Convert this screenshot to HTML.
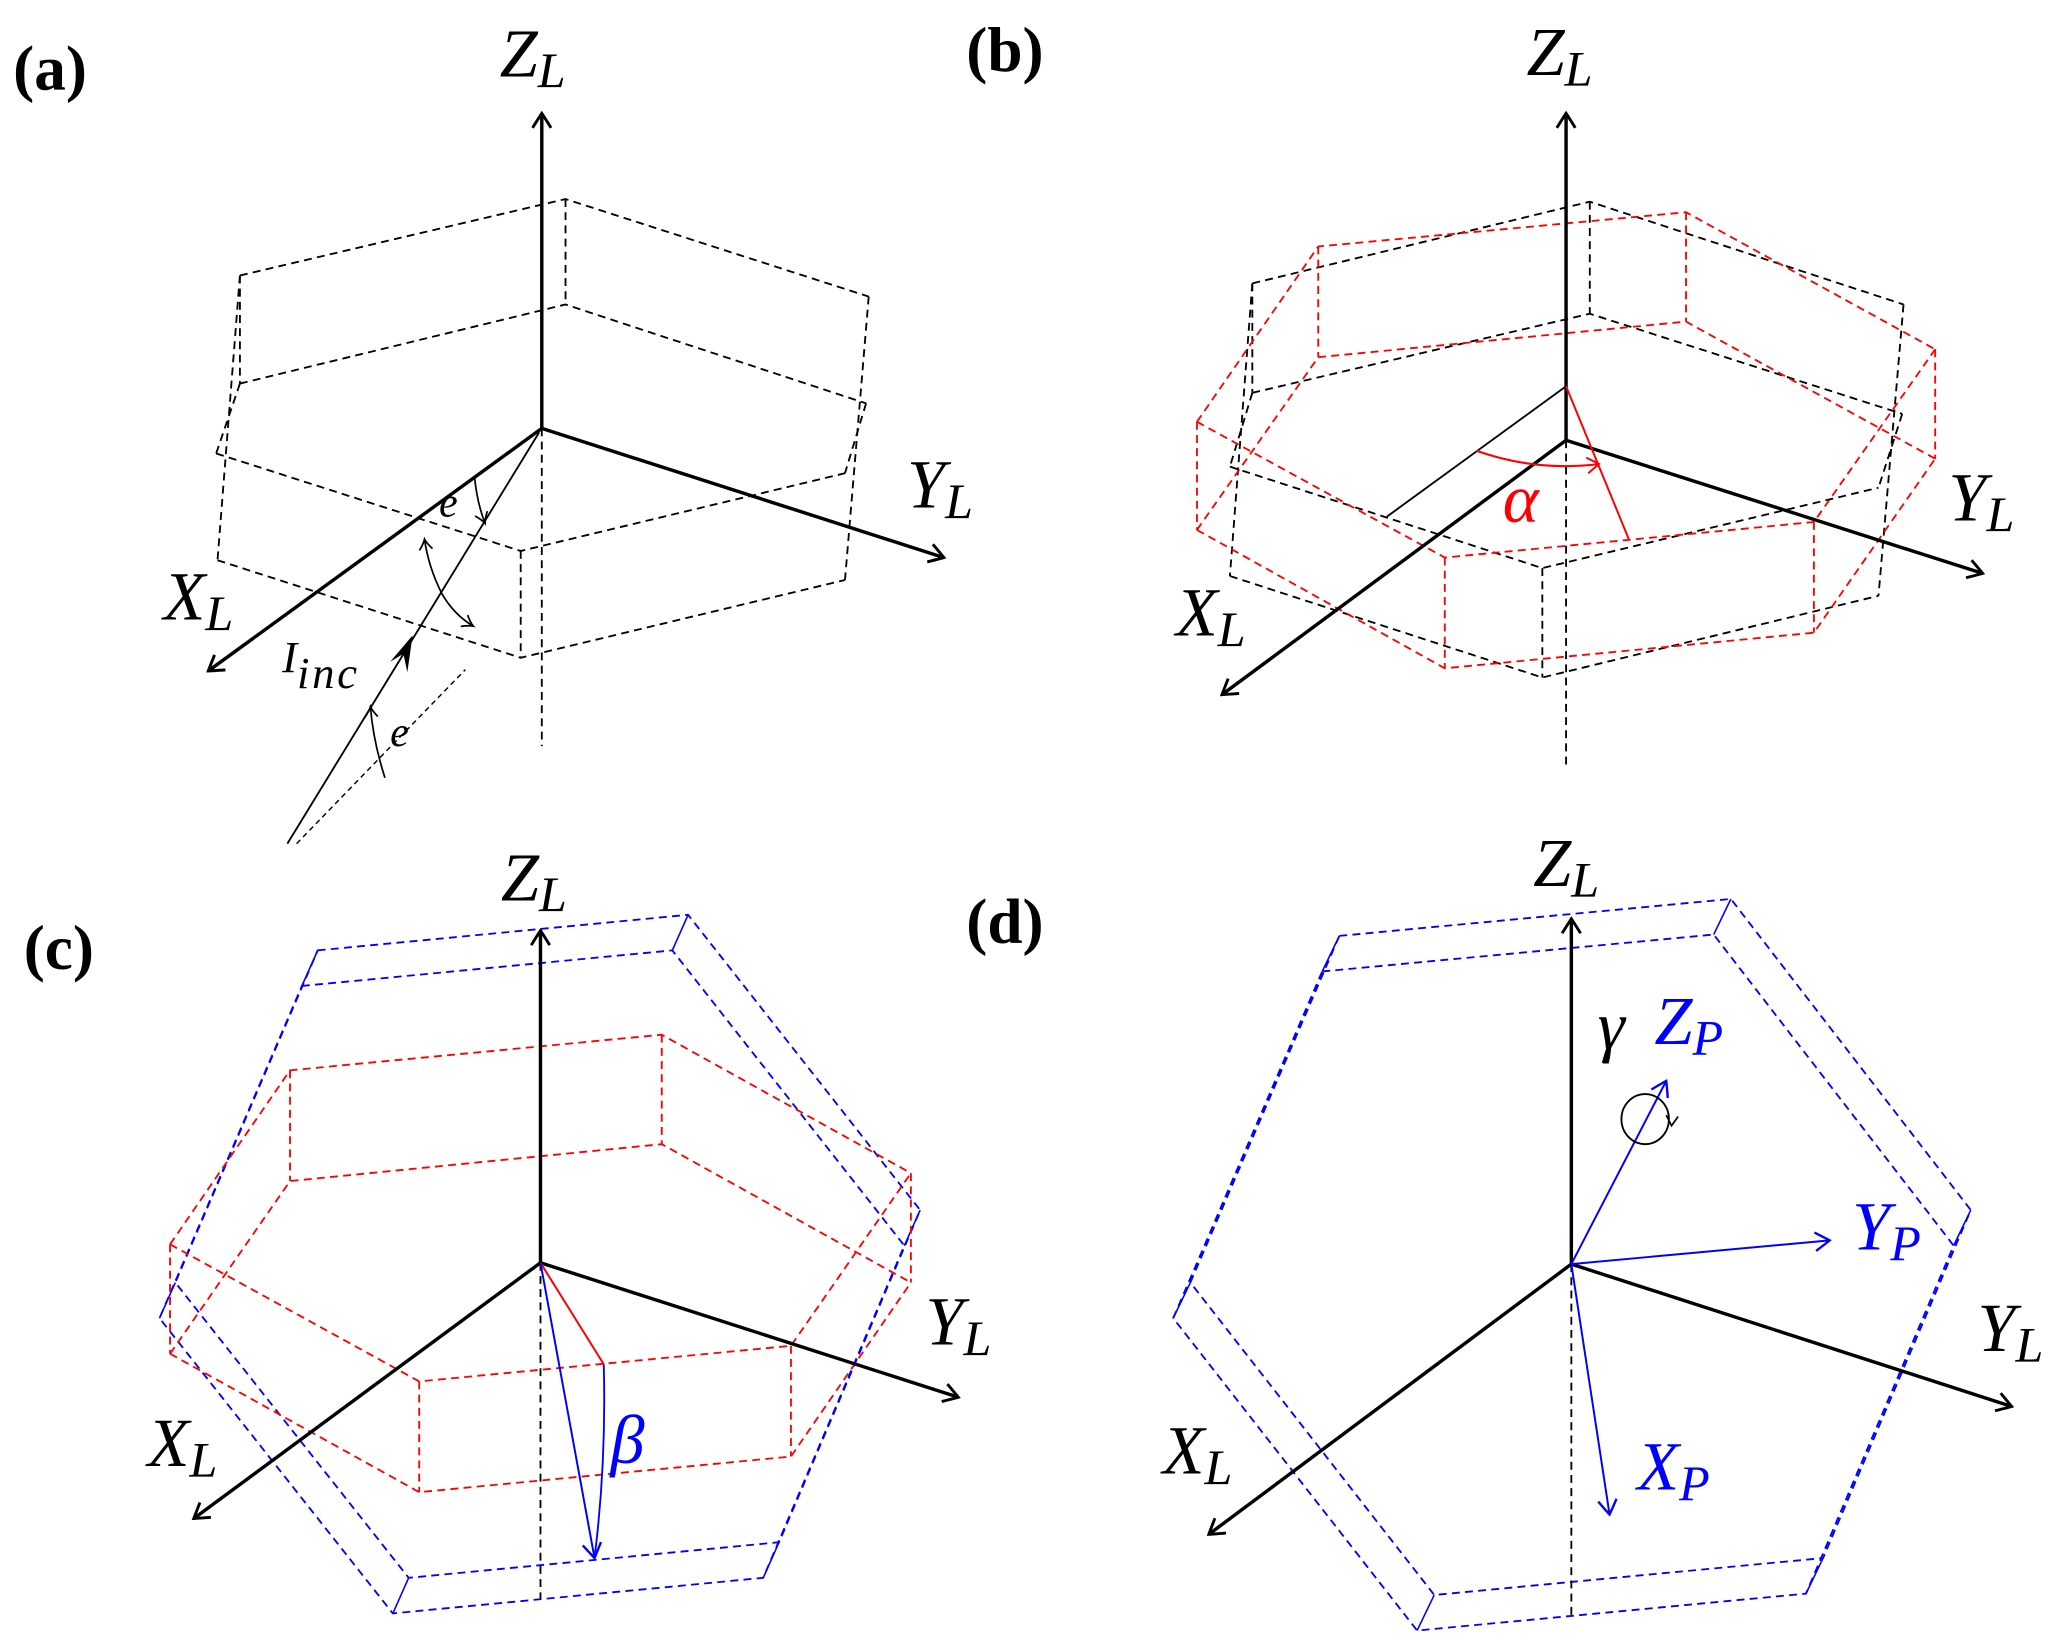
<!DOCTYPE html>
<html><head><meta charset="utf-8"><style>
html,body{margin:0;padding:0;background:#fff;}
svg{display:block;}
text{font-family:"Liberation Serif",serif;font-style:italic;}
.lbl{font-family:"Liberation Serif",serif;font-style:normal;font-weight:bold;font-size:48px;}
</style></head><body>
<svg width="2067" height="1649" viewBox="0 0 1568 1251" preserveAspectRatio="none" xmlns="http://www.w3.org/2000/svg">
<defs>
<marker id="ak" markerUnits="userSpaceOnUse" markerWidth="30" markerHeight="30" refX="0" refY="0" viewBox="-15 -15 30 30" orient="auto" overflow="visible">
<path d="M-11,-7 Q-3,-2 0,0 Q-3,2 -11,7" fill="none" stroke="#000" stroke-width="2.2"/></marker>
<marker id="ab" markerUnits="userSpaceOnUse" markerWidth="30" markerHeight="30" refX="0" refY="0" viewBox="-15 -15 30 30" orient="auto" overflow="visible">
<path d="M-11,-7 Q-3,-2 0,0 Q-3,2 -11,7" fill="none" stroke="#00f" stroke-width="1.8"/></marker>
<marker id="ar" markerUnits="userSpaceOnUse" markerWidth="30" markerHeight="30" refX="0" refY="0" viewBox="-15 -15 30 30" orient="auto" overflow="visible">
<path d="M-9,-6 Q-3,-2 0,0 Q-3,2 -9,6" fill="none" stroke="#f00" stroke-width="1.5"/></marker>
<marker id="as" markerUnits="userSpaceOnUse" markerWidth="30" markerHeight="30" refX="0" refY="0" viewBox="-15 -15 30 30" orient="auto" overflow="visible">
<path d="M-8,-5 Q-3,-1 0,0 Q-3,1 -8,5" fill="none" stroke="#000" stroke-width="1.3"/></marker>
</defs>

<!-- labels -->
<text class="lbl" x="10" y="68">(a)</text>
<text class="lbl" x="733" y="54">(b)</text>
<text class="lbl" x="18" y="735">(c)</text>
<text class="lbl" x="733" y="715">(d)</text>

<!-- ============ PANEL A ============ -->
<g fill="none" stroke="#000" stroke-width="1.4" stroke-dasharray="6,4">
<polyline points="182,209 429,151 659,225"/>
<polyline points="182,291 429,231 657,306"/>
<line x1="429" y1="151" x2="429" y2="231"/>
<line x1="182" y1="209" x2="182" y2="291"/>
<line x1="182" y1="209" x2="165" y2="425"/>
<line x1="164" y1="344" x2="182" y2="291"/>
<polyline points="164,344 395,418 641,359"/>
<polyline points="165,425 395,499 641,440"/>
<line x1="395" y1="418" x2="395" y2="499"/>
<line x1="659" y1="225" x2="641" y2="440"/>
<line x1="657" y1="306" x2="641" y2="359"/>
<line x1="411" y1="325" x2="411" y2="566"/>
<line x1="225" y1="640" x2="353" y2="508" stroke-width="1.1" stroke-dasharray="4,3"/>
</g>
<g fill="none" stroke="#000">
<line x1="411" y1="325" x2="411" y2="86" stroke-width="2.6" marker-end="url(#ak)"/>
<line x1="411" y1="325" x2="716" y2="423" stroke-width="2.6" marker-end="url(#ak)"/>
<line x1="411" y1="325" x2="158" y2="509" stroke-width="2.6" marker-end="url(#ak)"/>
<line x1="218" y1="640" x2="409" y2="328" stroke-width="1.4"/>
<path d="M292,590 Q283,562 281,536" stroke-width="1.3" marker-end="url(#as)"/>
<path d="M360,362 Q362,382 368,397" stroke-width="1.3" marker-end="url(#as)"/>
<path d="M335,450 Q325,430 322,409" stroke-width="1.3" marker-end="url(#as)"/>
<path d="M335,450 Q344,466 359,475" stroke-width="1.3" marker-end="url(#as)"/>
</g>
<path d="M313,482 L296,502 L306,496 L309,510 Z" fill="#000"/>
<text x="379" y="58" font-size="52">Z<tspan font-size="38" dy="8">L</tspan></text>
<text x="688" y="385" font-size="52">Y<tspan font-size="38" dy="8">L</tspan></text>
<text x="124" y="470" font-size="52">X<tspan font-size="38" dy="8">L</tspan></text>
<text x="214" y="510" font-size="34">I<tspan font-size="34" dy="12" letter-spacing="2">inc</tspan></text>
<text x="296" y="566" font-size="32">e</text>
<text x="333" y="392" font-size="32">e</text>

<!-- ============ PANEL B ============ -->
<g fill="none" stroke="#000" stroke-width="1.4" stroke-dasharray="6,4">
<polyline points="950,215 1206,153 1444,231"/>
<polyline points="950,298 1206,238 1443,314"/>
<line x1="1206" y1="153" x2="1206" y2="238"/>
<line x1="950" y1="215" x2="950" y2="298"/>
<line x1="950" y1="215" x2="933" y2="437"/>
<line x1="950" y1="298" x2="933" y2="354"/>
<polyline points="933,354 1170,431 1425,370"/>
<polyline points="933,437 1170,514 1425,452"/>
<line x1="1170" y1="431" x2="1170" y2="514"/>
<line x1="1444" y1="231" x2="1425" y2="452"/>
<line x1="1443" y1="314" x2="1425" y2="370"/>
<line x1="1188" y1="334" x2="1188" y2="584"/>
</g>
<g fill="none" stroke="#f00" stroke-width="1.4" stroke-dasharray="6,4">
<polyline points="908,320 1000,187 1279,161 1468,265"/>
<polyline points="908,402 1000,271 1279,244 1468,348"/>
<polyline points="908,320 1096,423 1376,396 1468,265"/>
<polyline points="908,402 1096,507 1376,480 1468,348"/>
<line x1="1000" y1="187" x2="1000" y2="271"/>
<line x1="1279" y1="161" x2="1279" y2="244"/>
<line x1="1468" y1="265" x2="1468" y2="348"/>
<line x1="908" y1="320" x2="908" y2="402"/>
<line x1="1096" y1="423" x2="1096" y2="507"/>
<line x1="1376" y1="396" x2="1376" y2="480"/>
</g>
<g fill="none">
<line x1="1188" y1="334" x2="1188" y2="86" stroke="#000" stroke-width="2.6" marker-end="url(#ak)"/>
<line x1="1188" y1="334" x2="1504" y2="435" stroke="#000" stroke-width="2.6" marker-end="url(#ak)"/>
<line x1="1188" y1="334" x2="927" y2="527" stroke="#000" stroke-width="2.6" marker-end="url(#ak)"/>
<line x1="1188" y1="293" x2="1052" y2="392" stroke="#000" stroke-width="1.4"/>
<line x1="1188" y1="293" x2="1236" y2="410" stroke="#f00" stroke-width="1.5"/>
<path d="M1120,342 Q1165,358 1213,352" stroke="#f00" stroke-width="1.6" marker-end="url(#ar)"/>
</g>
<text x="1158" y="57" font-size="52">Z<tspan font-size="38" dy="8">L</tspan></text>
<text x="1478" y="395" font-size="52">Y<tspan font-size="38" dy="8">L</tspan></text>
<text x="892" y="482" font-size="52">X<tspan font-size="38" dy="8">L</tspan></text>
<text x="1140" y="396" font-size="52" fill="#f00">α</text>

<!-- ============ PANEL C ============ -->
<g fill="none" stroke="#00f" stroke-width="1.4" stroke-dasharray="6,4">
<polygon points="241,721 522,694 698,918 591,1170 310,1197 133,973"/>
<polygon points="229,748 510,721 686,945 579,1197 298,1224 121,1000"/>
</g>
<g fill="none" stroke="#00f" stroke-width="1.2">
<line x1="241" y1="721" x2="229" y2="748"/><line x1="522" y1="694" x2="510" y2="721"/>
<line x1="698" y1="918" x2="686" y2="945"/><line x1="591" y1="1170" x2="579" y2="1197"/>
<line x1="310" y1="1197" x2="298" y2="1224"/><line x1="133" y1="973" x2="121" y2="1000"/>
</g>
<g fill="none" stroke="#f00" stroke-width="1.4" stroke-dasharray="6,4">
<polyline points="129,944 220,812 502,785 691,890"/>
<polyline points="129,1027 220,896 502,868 691,973"/>
<polyline points="129,944 318,1048 600,1021 691,890"/>
<polyline points="129,1027 318,1132 600,1105 691,973"/>
<line x1="220" y1="812" x2="220" y2="896"/>
<line x1="502" y1="785" x2="502" y2="868"/>
<line x1="691" y1="890" x2="691" y2="973"/>
<line x1="129" y1="944" x2="129" y2="1027"/>
<line x1="318" y1="1048" x2="318" y2="1132"/>
<line x1="600" y1="1021" x2="600" y2="1105"/>
</g>
<g fill="none">
<line x1="410" y1="958" x2="410" y2="1213" stroke="#000" stroke-width="1.4" stroke-dasharray="6,4"/>
<line x1="410" y1="958" x2="410" y2="706" stroke="#000" stroke-width="2.6" marker-end="url(#ak)"/>
<line x1="410" y1="958" x2="727" y2="1060" stroke="#000" stroke-width="2.6" marker-end="url(#ak)"/>
<line x1="410" y1="958" x2="147" y2="1152" stroke="#000" stroke-width="2.6" marker-end="url(#ak)"/>
<line x1="410" y1="958" x2="458" y2="1035" stroke="#f00" stroke-width="1.5"/>
<line x1="410" y1="958" x2="451" y2="1182" stroke="#00f" stroke-width="1.5" marker-end="url(#ab)"/>
<path d="M458,1035 Q460,1110 451,1182" stroke="#00f" stroke-width="1.4"/>
</g>
<text x="380" y="683" font-size="52">Z<tspan font-size="38" dy="8">L</tspan></text>
<text x="702" y="1020" font-size="52">Y<tspan font-size="38" dy="8">L</tspan></text>
<text x="112" y="1112" font-size="52">X<tspan font-size="38" dy="8">L</tspan></text>
<text x="463" y="1110" font-size="52" fill="#00f">β</text>

<!-- ============ PANEL D ============ -->
<g fill="none" stroke="#00f" stroke-width="1.4" stroke-dasharray="6,4">
<polygon points="1016,710 1313,682 1495,918 1383,1182 1088,1210 903,973"/>
<polygon points="1003,737 1300,709 1482,945 1370,1209 1075,1237 890,1000"/>
</g>
<g fill="none" stroke="#00f" stroke-width="1.2">
<line x1="1016" y1="710" x2="1003" y2="737"/><line x1="1313" y1="682" x2="1300" y2="709"/>
<line x1="1495" y1="918" x2="1482" y2="945"/><line x1="1383" y1="1182" x2="1370" y2="1209"/>
<line x1="1088" y1="1210" x2="1075" y2="1237"/><line x1="903" y1="973" x2="890" y2="1000"/>
</g>
<g fill="none">
<line x1="1192" y1="959" x2="1192" y2="1225" stroke="#000" stroke-width="1.4" stroke-dasharray="6,4"/>
<line x1="1192" y1="959" x2="1192" y2="697" stroke="#000" stroke-width="2.6" marker-end="url(#ak)"/>
<line x1="1192" y1="959" x2="1526" y2="1067" stroke="#000" stroke-width="2.6" marker-end="url(#ak)"/>
<line x1="1192" y1="959" x2="917" y2="1164" stroke="#000" stroke-width="2.6" marker-end="url(#ak)"/>
<line x1="1192" y1="959" x2="1264" y2="820" stroke="#00f" stroke-width="1.5" marker-end="url(#ab)"/>
<line x1="1192" y1="959" x2="1388" y2="941" stroke="#00f" stroke-width="1.5" marker-end="url(#ab)"/>
<line x1="1192" y1="959" x2="1221" y2="1149" stroke="#00f" stroke-width="1.5" marker-end="url(#ab)"/>
<ellipse cx="1248" cy="849" rx="18" ry="19" stroke="#000" stroke-width="1.4"/>
<path d="M1264,846 L1268,854 L1273,847" stroke="#000" stroke-width="1.3"/>
</g>
<text x="1163" y="672" font-size="52">Z<tspan font-size="38" dy="8">L</tspan></text>
<text x="1500" y="1025" font-size="52">Y<tspan font-size="38" dy="8">L</tspan></text>
<text x="882" y="1118" font-size="52">X<tspan font-size="38" dy="8">L</tspan></text>
<text x="1212" y="796" font-size="52">γ</text>
<text x="1255" y="792" font-size="52" fill="#00f">Z<tspan font-size="38" dy="8">P</tspan></text>
<text x="1405" y="948" font-size="52" fill="#00f">Y<tspan font-size="38" dy="8">P</tspan></text>
<text x="1242" y="1130" font-size="52" fill="#00f">X<tspan font-size="38" dy="8">P</tspan></text>
</svg>
</body></html>
